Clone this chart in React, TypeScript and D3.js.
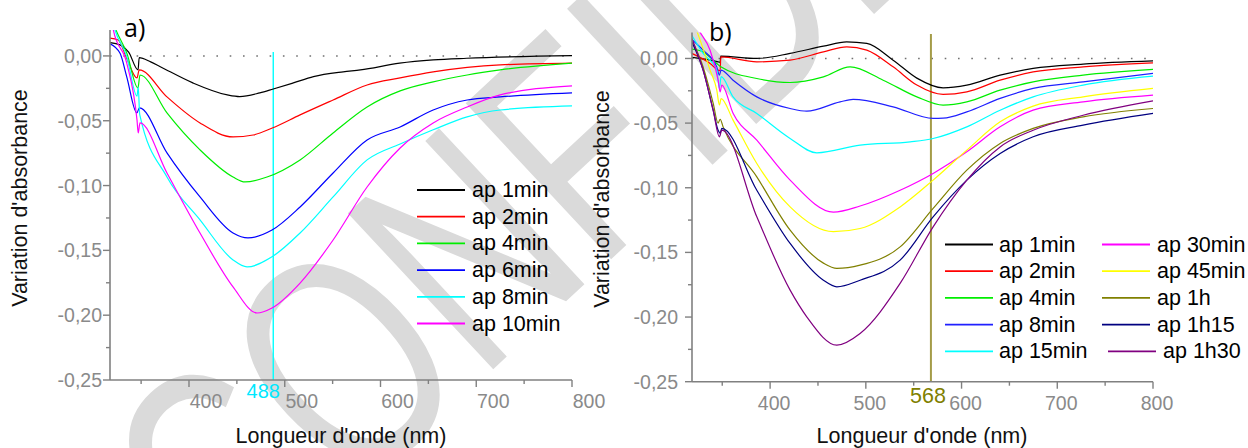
import React from "react";
import * as d3 from "d3";

// ---------- DATA (wavelength nm, absorbance variation) ----------
const a1min: [number, number][] = [[317.5,0.0103],[328,0.0085],[337,0.003],[346.8,-0.0108],[348,-0.0013],[360,-0.0046],[370,-0.0083],[404,-0.0208],[440,-0.0301],[453,-0.0314],[474,-0.0285],[488,-0.0255],[509,-0.0208],[530,-0.016],[561,-0.0123],[579,-0.0108],[620,-0.0056],[655,-0.0031],[690,-0.0018],[800,0.0002]];
const a2min: [number, number][] = [[317.5,0.0137],[326,0.0123],[335,-0.002],[345.7,-0.017],[348,-0.0108],[377,-0.0316],[411.5,-0.0517],[446,-0.0625],[467,-0.061],[487,-0.0556],[516,-0.0455],[550.5,-0.034],[586,-0.0224],[620.5,-0.017],[655,-0.0123],[725,-0.0069],[800,-0.0056]];
const a4min: [number, number][] = [[317.5,0.032],[323.7,0.02],[335,0.0023],[346.7,-0.0247],[348.8,-0.0147],[377,-0.044],[411.5,-0.0725],[446,-0.0934],[458.5,-0.0972],[481.5,-0.0934],[516,-0.0802],[550.5,-0.0594],[586,-0.0394],[620.5,-0.027],[655,-0.02],[690.5,-0.0147],[725,-0.0108],[800,-0.0056]];
const a6min: [number, number][] = [[317.5,0.0093],[328,0.002],[335,-0.0162],[345.5,-0.044],[348.3,-0.040],[377,-0.0748],[411.5,-0.1088],[446,-0.1366],[461.6,-0.1404],[486.7,-0.1343],[516,-0.1165],[550.5,-0.0903],[586,-0.0648],[620.5,-0.0548],[655,-0.0417],[690.5,-0.034],[725,-0.0316],[800,-0.0285]];
const a8min: [number, number][] = [[317.5,0.035],[322.7,0.02],[335,-0.0005],[345.7,-0.031],[347,-0.024],[348.5,-0.045],[377,-0.0934],[411.5,-0.1265],[446,-0.1574],[460.6,-0.1628],[486.7,-0.155],[516,-0.1366],[550.5,-0.1088],[586,-0.0802],[620.5,-0.0679],[655,-0.057],[690.5,-0.047],[725,-0.0417],[800,-0.0386]];
const a10min: [number, number][] = [[317.5,0.035],[321,0.02],[335,-0.0056],[345.7,-0.0494],[347,-0.0594],[348.8,-0.0517],[377,-0.0903],[411.5,-0.1366],[446,-0.1782],[471,-0.1983],[486.7,-0.1944],[516,-0.1752],[550.5,-0.142],[586,-0.1011],[620.5,-0.071],[655,-0.0517],[690.5,-0.0394],[725,-0.0301],[800,-0.0231]];

const b1min: [number, number][] = [[318.2,0.0008],[337.3,-0.0013],[345.7,-0.0026],[347.8,-0.003],[348.5,0.0018],[386.1,0],[420.9,0.0039],[455.7,0.0095],[480,0.0128],[501,0.0116],[528.5,-0.0013],[553.3,-0.0152],[580.7,-0.0227],[605.5,-0.0206],[640.3,-0.0129],[674.8,-0.0077],[727,-0.0044],[800,-0.0019]];
const b2min: [number, number][] = [[318.2,0.0039],[337.3,-0.0039],[345.7,-0.009],[347.8,-0.0095],[348.5,0.0012],[386.1,-0.0026],[420.9,-0.0013],[455.7,0.0051],[480.1,0.009],[501,0.0064],[528.5,-0.0065],[553.3,-0.0206],[580.7,-0.0278],[605.5,-0.0258],[640.3,-0.0168],[674.8,-0.0104],[727,-0.0065],[800,-0.0034]];
const b4min: [number, number][] = [[318.2,0.0072],[330,0.0051],[344.3,-0.0039],[348.5,-0.0065],[386.1,-0.0155],[420.9,-0.0186],[455.7,-0.0142],[483.6,-0.0065],[518.1,-0.0168],[553.3,-0.0297],[580.7,-0.0361],[605.5,-0.0336],[640.3,-0.0245],[674.8,-0.0181],[727,-0.0129],[800,-0.0085]];
const b8min: [number, number][] = [[318.2,0.0147],[330,0.0064],[344.3,-0.0065],[347,-0.0129],[348.8,-0.009],[361.3,-0.0168],[386.1,-0.0297],[420.9,-0.0387],[438.3,-0.0408],[473.1,-0.0336],[486.7,-0.0317],[528.5,-0.0374],[570.3,-0.0464],[580.7,-0.0462],[605.5,-0.0413],[640.3,-0.0309],[674.8,-0.0232],[727,-0.0181],[800,-0.0116]];
const b15min: [number, number][] = [[318.2,0.018],[330,0.0039],[344.3,-0.009],[347,-0.0232],[348.8,-0.014],[361.3,-0.0297],[386.1,-0.0425],[420.9,-0.0619],[448.8,-0.073],[494,-0.067],[546.3,-0.0645],[570.3,-0.0619],[605.5,-0.0529],[640.3,-0.04],[674.8,-0.0297],[727,-0.0206],[800,-0.0137]];
const b30min: [number, number][] = [[318.2,0.03],[327,0.02],[337.3,0.0064],[345.7,-0.0168],[347.8,-0.0258],[349.5,-0.0206],[361.3,-0.0423],[386.1,-0.0632],[420.9,-0.0941],[466.1,-0.1188],[494,-0.1141],[535.8,-0.1019],[570.3,-0.0889],[605.5,-0.0722],[640.3,-0.0529],[674.8,-0.04],[727,-0.0336],[800,-0.0284]];
const b45min: [number, number][] = [[318.2,0.03],[324,0.02],[337.3,-0.009],[344.3,-0.0245],[347,-0.036],[348.8,-0.031],[361.3,-0.0477],[386.1,-0.0812],[420.9,-0.1148],[466.1,-0.134],[494,-0.1315],[535.8,-0.1148],[570.3,-0.0941],[605.5,-0.0709],[640.3,-0.049],[674.8,-0.0369],[727,-0.0297],[800,-0.0232]];
const b1h: [number, number][] = [[318.2,0.0142],[330,-0.0065],[340.5,-0.0346],[345.7,-0.05],[347.8,-0.047],[350.9,-0.0529],[386.1,-0.0916],[420.9,-0.1328],[455.7,-0.1583],[469.7,-0.1624],[494,-0.1599],[535.8,-0.1457],[570.3,-0.116],[605.5,-0.0864],[640.3,-0.0657],[674.8,-0.0541],[727,-0.0452],[800,-0.0387]];
const b1h15: [number, number][] = [[318.2,0.0128],[330,-0.009],[340.5,-0.04],[345.7,-0.0555],[347.8,-0.058],[349.5,-0.054],[386.1,-0.1019],[420.9,-0.1431],[455.7,-0.1715],[469.7,-0.1766],[494,-0.1715],[535.8,-0.156],[570.3,-0.1225],[605.5,-0.0941],[640.3,-0.0735],[674.8,-0.0606],[727,-0.0516],[800,-0.0425]];
const b1h30: [number, number][] = [[318.2,0.0155],[330,-0.009],[340.5,-0.04],[347,-0.0606],[349.5,-0.0555],[386.1,-0.1225],[420.9,-0.1792],[438.3,-0.1998],[469.7,-0.2217],[494,-0.2127],[535.8,-0.174],[570.3,-0.1302],[605.5,-0.0941],[640.3,-0.0684],[674.8,-0.0555],[727,-0.0439],[800,-0.0328]];

const namesA = ["ap 1min", "ap 2min", "ap 4min", "ap 6min", "ap 8min", "ap 10min"];
const colorsA = ["#000000", "#ff0000", "#00ee00", "#0000ff", "#00ffff", "#ff00ff"];
const dataA = [a1min, a2min, a4min, a6min, a8min, a10min];

const namesB = ["ap 1min", "ap 2min", "ap 4min", "ap 8min", "ap 15min", "ap 30min", "ap 45min", "ap 1h", "ap 1h15", "ap 1h30"];
const colorsB = ["#000000", "#ff0000", "#00ee00", "#2020ff", "#00ffff", "#ff00ff", "#ffff00", "#808000", "#000080", "#800080"];
const dataB = [b1min, b2min, b4min, b8min, b15min, b30min, b45min, b1h, b1h15, b1h30];

const xMajor = [400, 500, 600, 700, 800];
const xMinor = [350, 450, 550, 650, 750];
const yMajor = [0, -0.05, -0.1, -0.15, -0.2, -0.25];
const yMinor = [-0.025, -0.075, -0.125, -0.175, -0.225];
const markerA = 488;
const markerB = 568;
const watermark = "CONFIDENTIAL";

const FONT = "Liberation Sans, Arial, sans-serif";
const fmtY = (v: number) => d3.format(".2f")(v).replace(".", ",").replace("−", "-");

type PanelProps = {
  id: string;
  left: number; right: number; top: number; bottom: number;
  xDomain: [number, number];
  data: [number, number][][];
  colors: string[];
  names: string[];
  marker: number; markerColor: string; markerLabelColor: string; markerTop: number; markerWidth: number;
  markerLabelDx: number; markerLabelY: number; markerFont: number;
  xLabelDx: number; xLabelY: number; yLabelGap: number;
  letter: string; letterX: number; letterY: number;
  yTitleX: number; yTitleY: number; xTitleX: number;
  legend: { x: number; y: number; text: number }[];
};

function Panel(p: PanelProps) {
  const x = d3.scaleLinear().domain(p.xDomain).range([p.left, p.right]);
  const y = d3.scaleLinear().domain([-0.25, 0.02]).range([p.bottom, p.top]);
  const line = d3.line<[number, number]>().x(d => x(d[0])).y(d => y(d[1])).curve(d3.curveMonotoneX);
  const axisColor = "#808080";
  return (
    <g>
      <defs>
        <clipPath id={`clip-${p.id}`}>
          <rect x={p.left} y={p.top} width={p.right - p.left + 1} height={p.bottom - p.top} />
        </clipPath>
      </defs>
      <line x1={p.left} x2={p.right} y1={y(0)} y2={y(0)} stroke="#707070" strokeWidth={1.6} strokeDasharray="1.6 11.7" />
      <line x1={x(p.marker)} x2={x(p.marker)} y1={p.markerTop} y2={p.bottom} stroke={p.markerColor} strokeWidth={p.markerWidth} />
      <g clipPath={`url(#clip-${p.id})`}>
        {p.data.map((d, i) => (
          <path key={i} d={line(d) || ""} fill="none" stroke={p.colors[i]} strokeWidth={1.2} />
        ))}
      </g>
      <line x1={p.left} x2={p.left} y1={p.top} y2={p.bottom} stroke={axisColor} strokeWidth={1.6} />
      <line x1={p.left} x2={p.right} y1={p.bottom} y2={p.bottom} stroke={axisColor} strokeWidth={1.6} />
      {yMajor.map(v => (
        <g key={v}>
          <line x1={p.left - 7} x2={p.left} y1={y(v)} y2={y(v)} stroke={axisColor} strokeWidth={1.4} />
          <text x={p.left - p.yLabelGap} y={y(v)} dy="0.36em" textAnchor="end" fontSize={19.5} fill="#8a8a8a" fontFamily={FONT}>{fmtY(v)}</text>
        </g>
      ))}
      {yMinor.map(v => (
        <line key={v} x1={p.left - 4} x2={p.left} y1={y(v)} y2={y(v)} stroke={axisColor} strokeWidth={1.4} />
      ))}
      {xMajor.map(v => (
        <g key={v}>
          <line x1={x(v)} x2={x(v)} y1={p.bottom} y2={p.bottom + 7} stroke={axisColor} strokeWidth={1.4} />
          <text x={x(v) + p.xLabelDx} y={p.xLabelY} textAnchor="middle" fontSize={19.5} fill="#8a8a8a" fontFamily={FONT}>{v}</text>
        </g>
      ))}
      {xMinor.map(v => (
        <line key={v} x1={x(v)} x2={x(v)} y1={p.bottom} y2={p.bottom + 4} stroke={axisColor} strokeWidth={1.4} />
      ))}
      <text x={x(p.marker) + p.markerLabelDx} y={p.markerLabelY} textAnchor="middle" fontSize={p.markerFont} fill={p.markerLabelColor} fontFamily={FONT}>{p.marker}</text>
      <text transform={`translate(${p.yTitleX},${p.yTitleY}) rotate(-90)`} textAnchor="middle" fontSize={21.5} fill="#111" fontFamily={FONT}>Variation d'absorbance</text>
      <text x={p.xTitleX} y={443} textAnchor="middle" fontSize={21.5} fill="#111" fontFamily={FONT}>Longueur d'onde (nm)</text>
      <text x={p.letterX} y={p.letterY} fontSize={25} fill="#000" fontFamily="Open Sans, Liberation Sans, sans-serif">{p.letter}</text>
      {p.legend.map((l, i) => (
        <g key={i}>
          <line x1={l.x} x2={l.x + 48} y1={l.y} y2={l.y} stroke={p.colors[i]} strokeWidth={1.8} />
          <text x={l.text} y={l.y + 7} fontSize={21.5} fill="#000" fontFamily={FONT}>{p.names[i]}</text>
        </g>
      ))}
    </g>
  );
}

export default function App() {
  const rowH = 26.7;
  const legendA = namesA.map((_, i) => ({ x: 417, y: 190 + i * rowH, text: 472 }));
  const legendB = namesB.map((_, i) => {
    const col = i < 5 ? 0 : 1;
    const row = i % 5;
    const shift = i === 9 ? 6 : 0;
    return { x: (col === 0 ? 945 : 1102) + shift, y: 244.5 + row * rowH, text: (col === 0 ? 999 : 1157) + shift };
  });
  return (
    <svg width={1248} height={448} style={{ position: "absolute", left: 0, top: 0, background: "#fff" }}>
      <rect x={0} y={0} width={1248} height={448} fill="#fff" />
      <text transform="translate(235,610) rotate(-43) scale(0.72,1)" fontSize={310} fill="#dadada" fontFamily={FONT}>{watermark}</text>
      <Panel
        id="a" left={110} right={572} top={30} bottom={380} xDomain={[317.5, 800]}
        data={dataA} colors={colorsA} names={namesA}
        marker={markerA} markerColor="#00ffff" markerLabelColor="#00e8ff" markerTop={52} markerWidth={1.4}
        markerLabelDx={-10} markerLabelY={398} markerFont={20}
        xLabelDx={17} xLabelY={408} yLabelGap={8}
        letter="a)" letterX={124} letterY={37}
        yTitleX={27} yTitleY={198} xTitleX={341}
        legend={legendA}
      />
      <Panel
        id="b" left={692} right={1153} top={32.6} bottom={381.7} xDomain={[318.4, 800]}
        data={dataB} colors={colorsB} names={namesB}
        marker={markerB} markerColor="#a49c48" markerLabelColor="#808000" markerTop={34} markerWidth={2}
        markerLabelDx={-3} markerLabelY={403} markerFont={21.5}
        xLabelDx={4} xLabelY={410} yLabelGap={14}
        letter="b)" letterX={709} letterY={41}
        yTitleX={609} yTitleY={199} xTitleX={922}
        legend={legendB}
      />
    </svg>
  );
}
